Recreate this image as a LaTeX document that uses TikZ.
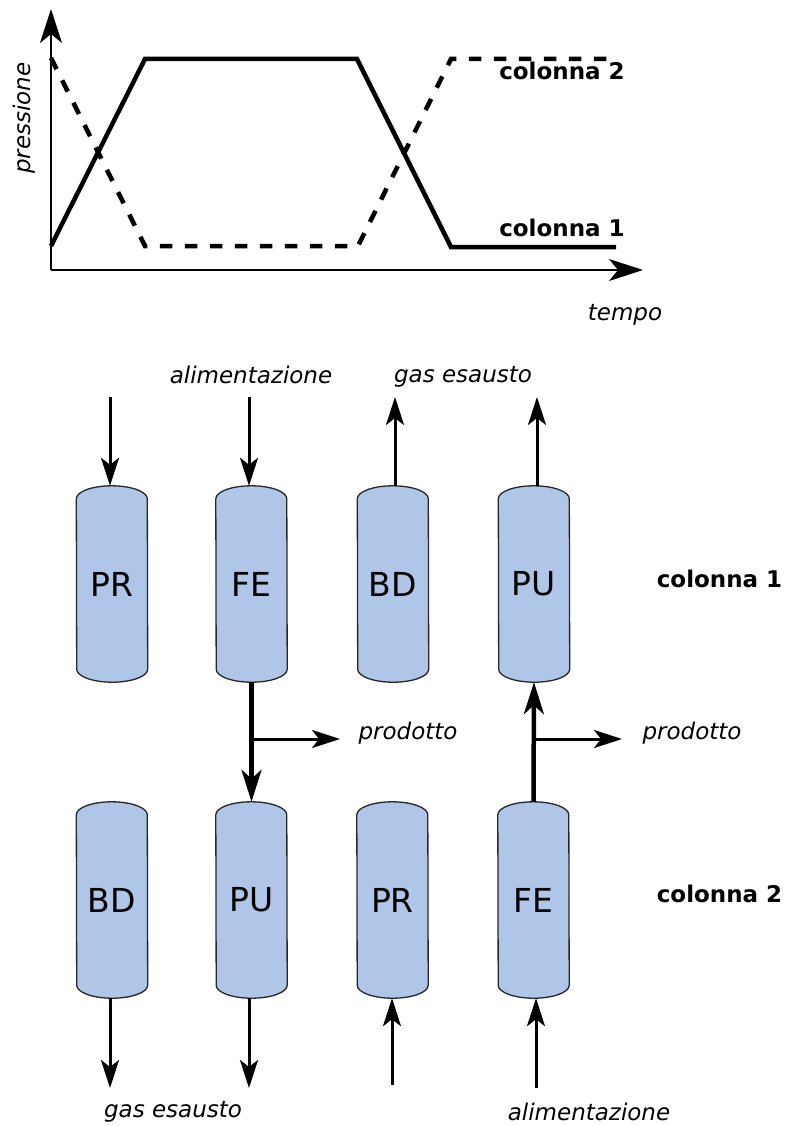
\documentclass[tikz,border=0pt]{standalone}
\usepackage{fontspec}
\setmainfont{DejaVu Sans}
\usetikzlibrary{arrows.meta}
\definecolor{cylfill}{RGB}{175,198,233}
\pgfdeclarelayer{bg}
\pgfsetlayers{bg,main}
\tikzset{
  lab/.style={font=\fontsize{23}{27}\selectfont\itshape, anchor=base, inner sep=0pt},
  blab/.style={font=\fontsize{23}{27}\selectfont\bfseries, anchor=base, inner sep=0pt},
  cyl/.style={minimum width=71pt, minimum height=196pt, inner sep=0pt, font=\fontsize{33}{40}\selectfont},
  cylshape/.style={fill=cylfill, draw=black!85, line width=1.3pt},
  axis/.style={line width=2pt, -{Stealth[length=34pt,width=22pt,inset=9pt]}},
  curve/.style={line width=4.5pt, line join=miter},
  dashcurve/.style={curve, dash pattern=on 12.5pt off 12.5pt},
  flow/.style={line width=3pt, -{Stealth[length=28pt,width=18pt,inset=7pt]}},
  mainflow/.style={line width=4.5pt, -{Stealth[length=32pt,width=20pt,inset=9pt]}},
}
\newcommand{\cyldraw}[1]{%
  \begin{pgfonlayer}{bg}
  \draw[cylshape] ([yshift=-13pt]#1.north west)
    arc[start angle=180,end angle=0,x radius=35.5pt,y radius=13pt]
    -- ([yshift=13pt]#1.south east)
    arc[start angle=0,end angle=-180,x radius=35.5pt,y radius=13pt] -- cycle;
  \end{pgfonlayer}}
\begin{document}
\begin{tikzpicture}[x=1pt,y=-1pt]
\useasboundingbox (0,0) rectangle (787,1126);
% ---------- graph ----------
\coordinate (O) at (51,270);
\coordinate (Ytop) at (51,9);
\coordinate (Xend) at (643,270);
\draw[axis] (O) -- (Ytop);
\draw[axis] (O) -- (Xend);
\draw[curve] (51,246) -- (145,59) -- (357,59) -- (451,247) -- (616,247);
\draw[dashcurve] (51,58) -- (145,246) -- (358,246) -- (451,59) -- (616,59);
\node[lab, rotate=90, anchor=center] (ylab) at (24,118) {pressione};
\node[lab] (xlab) at (625,320) {tempo};
\node[blab] (c2g) at (562,80) {colonna 2};
\node[blab] (c1g) at (562,236) {colonna 1};
% ---------- columns ----------
\node[cyl] (PR1) at (112,584) {PR};
\node[cyl] (FE1) at (251.5,584) {FE};
\node[cyl] (BD1) at (393,584) {BD};
\node[cyl] (PU1) at (534,584) {PU};
\node[cyl] (BD2) at (112,900) {BD};
\node[cyl] (PU2) at (251.5,900) {PU};
\node[cyl] (PR2) at (392.5,900) {PR};
\node[cyl] (FE2) at (533.5,900) {FE};
\foreach \n in {PR1,FE1,BD1,PU1,BD2,PU2,PR2,FE2}{\cyldraw{\n}}
% labels
\node[lab] (alim1) at (251,383) {alimentazione};
\node[lab] (gas1) at (463,382) {gas esausto};
\node[lab] (prod1) at (408,739) {prodotto};
\node[lab] (prod2) at (692,739) {prodotto};
\node[blab] (col1) at (719.5,587) {colonna 1};
\node[blab] (col2) at (719.5,902) {colonna 2};
\node[lab] (gas2) at (173,1117) {gas esausto};
\node[lab] (alim2) at (589,1120) {alimentazione};
% arrows row 1
\coordinate (i1) at (110,397);
\coordinate (i2) at (249,397);
\coordinate (o1) at (395,397);
\coordinate (o2) at (537,397);
\draw[flow] (i1) -- (i1 |- PR1.north);
\draw[flow] (i2) -- (i2 |- FE1.north);
\draw[flow] (o1 |- BD1.north) -- (o1);
\draw[flow] (o2 |- PU1.north) -- (o2);
% between rows
\draw[mainflow] (FE1.south) -- (PU2.north);
\draw[mainflow] (FE2.north) -- (PU1.south);
\coordinate (b1) at (251.5,739);
\coordinate (b2) at (533.5,739);
\coordinate (p1) at (340,739);
\coordinate (p2) at (622,739);
\draw[flow] (b1) -- (p1);
\draw[flow] (b2) -- (p2);
% arrows row 2
\coordinate (e1) at (110,1088);
\coordinate (e2) at (249,1088);
\coordinate (f1) at (392,1085);
\coordinate (f2) at (536,1088);
\draw[flow] (e1 |- BD2.south) -- (e1);
\draw[flow] (e2 |- PU2.south) -- (e2);
\draw[flow] (f1) -- (f1 |- PR2.south);
\draw[flow] (f2) -- (f2 |- FE2.south);
\end{tikzpicture}
\end{document}
